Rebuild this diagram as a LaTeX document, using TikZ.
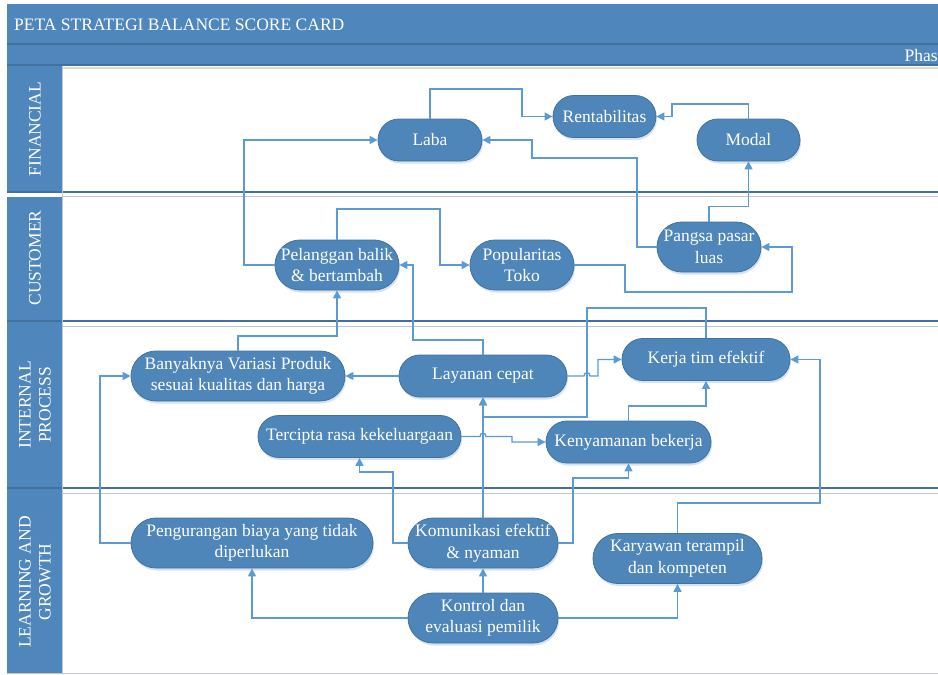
\documentclass[tikz,border=0pt]{standalone}
\usepackage{fontspec}
\setmainfont{Liberation Serif}
\usetikzlibrary{arrows.meta,shadows}
\definecolor{hdr}{HTML}{4F87BC}
\definecolor{nfill}{HTML}{4E86BA}
\definecolor{nline}{HTML}{41719C}
\definecolor{edgec}{HTML}{5B9BD5}
\definecolor{lanedark}{HTML}{41719C}
\definecolor{lanelight}{HTML}{BFC7D0}
\definecolor{shad}{HTML}{D2E0EE}
\tikzset{
 nd/.style={draw=nline, line width=0.8pt, fill=nfill, text=white, align=center,
   font=\fontsize{17.5}{21.5}\selectfont, inner sep=0pt,
   drop shadow={shadow xshift=1pt, shadow yshift=-2.5pt, fill=shad, opacity=0.9}},
 nA/.style={nd, minimum height=42pt, rounded corners=20.9pt},
 nB/.style={nd, minimum height=50pt, rounded corners=24.9pt},
 arr/.style={draw=edgec, line width=1.3pt, -{Triangle[length=8pt,width=8pt]}},
 lanelbl/.style={rotate=90, text=white, align=center, font=\fontsize{17.5}{20}\selectfont},
 hdrtext/.style={text=white, font=\fontsize{17.5}{20}\selectfont, inner sep=0pt},
}
\begin{document}
\begin{tikzpicture}[x=1pt,y=-1pt]
\useasboundingbox (0,0) rectangle (938,675);
\fill[white] (0,0) rectangle (938,675);
% header bars
\fill[hdr] (7,4) rectangle (938,44);
\fill[hdr] (7,44) rectangle (938,65);
\draw[lanedark, line width=1.2pt] (7,44) -- (938,44);
\draw[lanedark, line width=1.2pt] (7,65) -- (938,65);
\draw[lanelight!60, line width=2pt] (62,68) -- (938,68);
\node[hdrtext, anchor=base west] (title) at (14,30) {PETA STRATEGI BALANCE SCORE CARD};
\node[hdrtext, anchor=base east] (phase) at (938,61) {Phas};
% lane label column
\fill[hdr] (7,66) rectangle (62,192);
\fill[hdr] (7,197) rectangle (62,321);
\fill[hdr] (7,321) rectangle (62,488);
\fill[hdr] (7,488) rectangle (62,673);
% lane borders
\draw[lanedark, line width=1.2pt] (7,192) -- (938,192);
\draw[lanedark, line width=1.2pt] (7,321) -- (938,321);
\draw[lanedark, line width=1.2pt] (7,488) -- (938,488);
\draw[lanelight, line width=0.8pt] (62,196) -- (938,196);
\draw[lanelight, line width=0.8pt] (62,326) -- (938,326);
\draw[lanelight, line width=0.8pt] (62,493) -- (938,493);
\draw[lanelight, line width=1pt] (7,673) -- (938,673);
\draw[lanelight, line width=0.8pt] (62,66) -- (62,673);
% lane labels
\node[lanelbl] (lf) at (35,129) {FINANCIAL};
\node[lanelbl] (lc) at (35,258) {CUSTOMER};
\node[lanelbl] (li) at (35,405) {INTERNAL\\PROCESS};
\node[lanelbl] (ll) at (35,582) {LEARNING AND\\GROWTH};
% nodes
\node[nA, minimum width=104pt] (laba) at (430,140) {Laba};
\node[nA, minimum width=103pt] (rent) at (604.5,116.5) {Rentabilitas};
\node[nA, minimum width=103pt] (modal) at (748.5,140) {Modal};
\node[nB, minimum width=104pt] (pangsa) at (709,247) {Pangsa pasar\\luas};
\node[nB, minimum width=104pt] (pop) at (522,265) {Popularitas\\Toko};
\node[nB, minimum width=124pt] (pel) at (337,265) {Pelanggan balik\\\& bertambah};
\node[nB, minimum width=214pt] (ban) at (238,376) {Banyaknya Variasi Produk\\sesuai kualitas dan harga};
\node[nA, minimum width=168pt] (lay) at (483,376) {Layanan cepat};
\node[nA, minimum width=168pt] (kerja) at (706,359.5) {Kerja tim efektif};
\node[nA, minimum width=203pt] (terc) at (359.5,436.5) {Tercipta rasa kekeluargaan};
\node[nA, minimum width=165pt] (keny) at (628.5,442) {Kenyamanan bekerja};
\node[nB, minimum width=242pt] (peng) at (252,543) {Pengurangan biaya yang tidak\\diperlukan};
\node[nB, minimum width=150pt] (kom) at (483,543) {Komunikasi efektif\\\& nyaman};
\node[nB, minimum width=169pt] (kary) at (677.5,558.5) {Karyawan terampil\\dan kompeten};
\node[nB, minimum width=150pt] (kon) at (483,618) {Kontrol dan\\evaluasi pemilik};
% connectors
\draw[arr] (laba.north) |- (522,89) |- (rent.west);
\draw[arr] (modal.north) |- (672,104) |- (rent.east);
\draw[arr] (pangsa.north) -- ++(0,-15) -| (modal.south);
\draw[arr] (pangsa.west) -| (637,158) -| (532,140) -- (laba.east);
\draw[arr] (pop.east) -| (625,292) -| (792,247) -- (pangsa.east);
\draw[arr] (pel.north) |- (440,209) |- (pop.west);
\draw[arr] (pel.west) -| (244,140) -- (laba.west);
\draw[arr] (ban.north) |- (337,336) -- (pel.south);
\draw[arr] (lay.north) |- (413,340) |- (pel.east);
\draw[arr] (lay.west) -- (ban.east);
\draw[arr] (lay.east) -- (584,376) .. controls (584,371.5) and (590,371.5) .. (590,376) -- (598,376) |- (kerja.west);
\draw[arr] (kerja.north) |- (587,308) -- (587,417) -- (483,417) -- (lay.south);
\draw[arr] (terc.east) -- (480,436.5) .. controls (480,432) and (486,432) .. (486,436.5) -- (512,436.5) |- (keny.west);
\draw[arr] (keny.north) |- (706,406) -- (kerja.south);
\draw[arr] (kom.west) -| (393,472) -| (terc.south);
\draw[arr] (kom.east) -| (573,478) -| (keny.south);
\draw[arr] (kom.north) -- (lay.south);
\draw[arr] (kon.north) -- (kom.south);
\draw[arr] (kon.west) -| (peng.south);
\draw[arr] (kon.east) -| (kary.south);
\draw[arr] (kary.north) |- (820,503) |- (kerja.east);
\draw[arr] (peng.west) -| (100,376) -- (ban.west);
\end{tikzpicture}
\end{document}
